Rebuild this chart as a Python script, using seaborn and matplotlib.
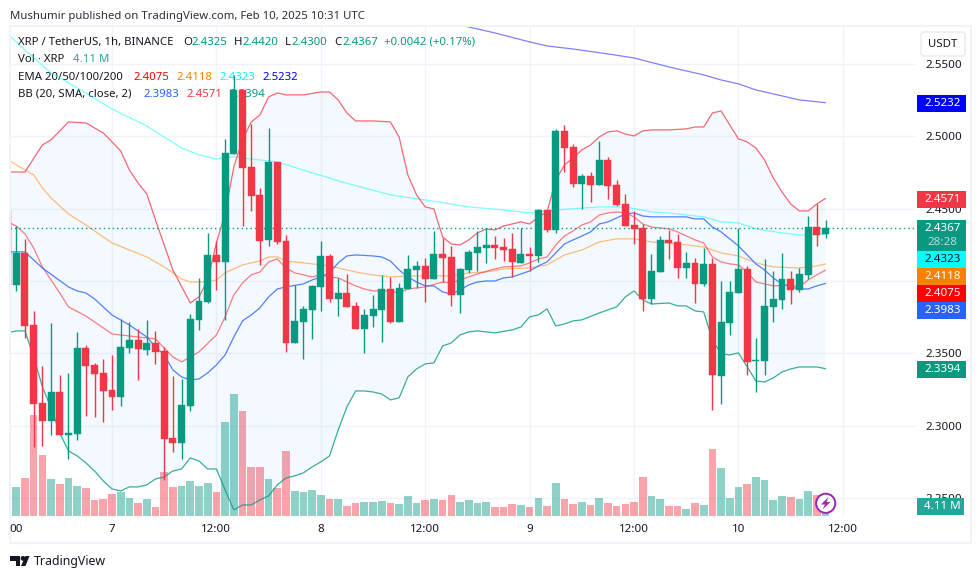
# XRP / USDT 1h chart, TradingView look

import matplotlib
matplotlib.use("Agg")

import matplotlib.pyplot as plt
import numpy as np
import pandas as pd
import seaborn as sns
from matplotlib.patches import Circle, FancyBboxPatch, Polygon, Rectangle

# ==========================================
# Data (hours counted from Feb 7 00:00)
# ==========================================

hours = list(range(-12, 83))

open_ = [2.4484, 2.3973, 2.4194, 2.3696, 2.3157, 2.3033, 2.3233, 2.2936, 2.2943, 2.3537, 2.3420, 2.3365,
         2.3247, 2.3199, 2.3537, 2.3593, 2.3523, 2.3572, 2.3517, 2.2915, 2.2881, 2.3137, 2.3731, 2.3855,
         2.4180, 2.4132, 2.4878, 2.5320, 2.4788, 2.4595, 2.4284, 2.4823, 2.4277, 2.3572, 2.3717, 2.3800,
         2.3959, 2.4173, 2.3876, 2.3917, 2.3828, 2.3669, 2.3758, 2.3800, 2.3945, 2.3717, 2.3945, 2.4076,
         2.4104, 2.4014, 2.4187, 2.4166, 2.3904, 2.4076, 2.4194, 2.4228, 2.4249, 2.4235, 2.4221, 2.4125,
         2.4187, 2.4173, 2.4491, 2.4353, 2.5037, 2.4926, 2.4671, 2.4726, 2.4664, 2.4836, 2.4664, 2.4532,
         2.4387, 2.4367, 2.3876, 2.4062, 2.4284, 2.4270, 2.4090, 2.4125, 2.3980, 2.4118, 2.3344, 2.3710,
         2.3917, 2.4083, 2.3447, 2.3447, 2.3821, 2.3869, 2.4014, 2.3938, 2.4042, 2.4373, 2.4325]
high = [2.4484, 2.4380, 2.4291, 2.3793, 2.3413, 2.3710, 2.3351, 2.3365, 2.3648, 2.3558, 2.3434, 2.3461,
        2.3489, 2.3738, 2.3717, 2.3669, 2.3731, 2.3655, 2.3544, 2.3344, 2.3323, 2.3772, 2.4021, 2.4332,
        2.4277, 2.4982, 2.5424, 2.5320, 2.5085, 2.4643, 2.5058, 2.4823, 2.4318, 2.3973, 2.3828, 2.3973,
        2.4277, 2.4187, 2.4021, 2.4049, 2.3855, 2.3807, 2.3904, 2.4042, 2.4028, 2.3986, 2.4180, 2.4138,
        2.4159, 2.4346, 2.4297, 2.4242, 2.4090, 2.4214, 2.4346, 2.4367, 2.4311, 2.4297, 2.4332, 2.4367,
        2.4235, 2.4498, 2.4491, 2.5051, 2.5078, 2.4947, 2.4740, 2.4753, 2.4968, 2.4857, 2.4698, 2.4601,
        2.4484, 2.4394, 2.4187, 2.4311, 2.4353, 2.4325, 2.4201, 2.4159, 2.4228, 2.4159, 2.4000, 2.4000,
        2.4367, 2.4104, 2.3606, 2.4152, 2.4069, 2.4194, 2.4069, 2.4090, 2.4449, 2.4532, 2.4420]
low = [2.3973, 2.3931, 2.3606, 2.2853, 2.2860, 2.2936, 2.2936, 2.2770, 2.2902, 2.3067, 2.3061, 2.3026,
       2.3109, 2.3137, 2.3503, 2.3316, 2.3489, 2.3427, 2.2625, 2.2819, 2.2770, 2.3102, 2.3662, 2.3848,
       2.3938, 2.3731, 2.4878, 2.4380, 2.4484, 2.4111, 2.4242, 2.4256, 2.3510, 2.3572, 2.3461, 2.3600,
       2.3793, 2.3855, 2.3758, 2.3821, 2.3669, 2.3503, 2.3682, 2.3579, 2.3710, 2.3717, 2.3945, 2.3952,
       2.3855, 2.4014, 2.3993, 2.3828, 2.3779, 2.4056, 2.4069, 2.4125, 2.4152, 2.4138, 2.4028, 2.4125,
       2.4069, 2.4132, 2.4339, 2.4332, 2.4753, 2.4650, 2.4498, 2.4546, 2.4664, 2.4567, 2.4519, 2.4380,
       2.4256, 2.3793, 2.3841, 2.4062, 2.4152, 2.4021, 2.4021, 2.3848, 2.3966, 2.3109, 2.3150, 2.3627,
       2.3917, 2.3351, 2.3233, 2.3351, 2.3717, 2.3807, 2.3841, 2.3924, 2.4014, 2.4242, 2.4300]
close = [2.3973, 2.4194, 2.3689, 2.3150, 2.3033, 2.3233, 2.2936, 2.2950, 2.3537, 2.3413, 2.3358, 2.3240,
         2.3199, 2.3544, 2.3593, 2.3530, 2.3572, 2.3510, 2.2909, 2.2881, 2.3143, 2.3738, 2.3862, 2.4180,
         2.4132, 2.4885, 2.5320, 2.4781, 2.4588, 2.4277, 2.4823, 2.4270, 2.3572, 2.3724, 2.3807, 2.3966,
         2.4173, 2.3876, 2.3917, 2.3821, 2.3669, 2.3765, 2.3807, 2.3945, 2.3717, 2.3952, 2.4083, 2.4104,
         2.4014, 2.4187, 2.4159, 2.3904, 2.4083, 2.4201, 2.4235, 2.4249, 2.4228, 2.4214, 2.4132, 2.4187,
         2.4173, 2.4491, 2.4353, 2.5037, 2.4919, 2.4671, 2.4726, 2.4664, 2.4836, 2.4657, 2.4525, 2.4380,
         2.4360, 2.3876, 2.4069, 2.4284, 2.4263, 2.4090, 2.4125, 2.3980, 2.4118, 2.3351, 2.3717, 2.3924,
         2.4083, 2.3441, 2.3454, 2.3828, 2.3876, 2.4014, 2.3938, 2.4049, 2.4373, 2.4318, 2.4367]
volume = [12.7, 11.9, 15.6, 41.5, 25.1, 15.2, 13.2, 15.6, 12.3, 11.5, 6.6, 7.0,
          9.0, 9.9, 7.4, 5.3, 7.0, 3.7, 18.1, 11.9, 12.3, 14.4, 12.3, 13.6,
          9.9, 38.6, 50.1, 43.2, 20.1, 20.1, 15.2, 11.5, 26.7, 10.3, 9.9, 10.7,
          8.6, 7.0, 7.0, 4.1, 5.3, 5.8, 5.8, 6.2, 5.3, 4.9, 8.2, 5.3,
          6.6, 7.0, 6.6, 8.6, 5.8, 6.6, 5.3, 5.8, 3.7, 3.7, 4.9, 4.5,
          3.7, 7.4, 4.1, 13.6, 7.0, 4.9, 5.8, 4.5, 7.4, 5.3, 4.1, 4.9,
          5.8, 16.0, 8.2, 7.0, 4.1, 4.1, 2.9, 5.3, 4.5, 27.5, 19.7, 7.4,
          11.9, 13.2, 16.0, 14.8, 6.6, 8.2, 7.8, 7.0, 10.3, 8.6, 4.11]

upper_h = [-12, -11, -10, -8, -7, -5, -3, -1, 1, 2, 3, 4, 5, 7, 9, 10, 11, 12, 13, 14, 15, 16, 17, 18, 19, 20,
           22, 24, 25, 26, 27, 28, 30, 32, 33, 34, 35, 36, 37, 38, 39, 40, 41, 42, 43, 44, 45, 47, 48, 49, 50,
           51, 52, 53, 54, 55, 56, 57, 58, 59, 60, 61, 62, 64, 66, 67, 68, 69, 70, 71, 72, 73, 74, 75, 76, 77,
           78, 79, 80, 81, 82]
upper_p = [2.4753, 2.4753, 2.4753, 2.4940, 2.4975, 2.5099, 2.5092, 2.5023, 2.4899, 2.4767, 2.4677, 2.4601,
           2.4422, 2.4076, 2.3848, 2.3890, 2.4007, 2.4263, 2.4470, 2.4788, 2.4975, 2.5099, 2.5147, 2.5272,
           2.5299, 2.5286, 2.5286, 2.5306, 2.5306, 2.5251, 2.5161, 2.5106, 2.5106, 2.5099, 2.4995, 2.4733,
           2.4595, 2.4512, 2.4498, 2.4304, 2.4256, 2.4249, 2.4284, 2.4332, 2.4360, 2.4353, 2.4380, 2.4408,
           2.4394, 2.4443, 2.4477, 2.4698, 2.4802, 2.4850, 2.4906, 2.4940, 2.4995, 2.5030, 2.5037, 2.5016,
           2.5002, 2.5037, 2.5044, 2.5044, 2.5051, 2.5064, 2.5064, 2.5161, 2.5175, 2.5078, 2.4982, 2.4961,
           2.4919, 2.4836, 2.4712, 2.4615, 2.4532, 2.4484, 2.4484, 2.4532, 2.4571]

basis_h = [-12, -11, -10, -8, -5, -4, -3, -2, 0, 2, 4, 5, 6, 7, 8, 9, 10, 11, 12, 13, 14, 15, 16, 17, 18, 19, 20,
           22, 23, 24, 25, 26, 27, 28, 30, 31, 32, 33, 34, 35, 36, 37, 38, 39, 40, 41, 42, 43, 44, 45, 46, 47, 48,
           49, 50, 51, 52, 53, 54, 55, 56, 57, 59, 60, 61, 62, 66, 67, 68, 69, 70, 71, 72, 73, 74, 75, 76, 77, 78,
           79, 80, 81, 82]
basis_p = [2.4201, 2.4201, 2.4201, 2.4090, 2.3959, 2.3931, 2.3917, 2.3876, 2.3765, 2.3696, 2.3613, 2.3544,
           2.3489, 2.3385, 2.3337, 2.3316, 2.3323, 2.3365, 2.3420, 2.3489, 2.3613, 2.3724, 2.3765, 2.3814,
           2.3890, 2.3945, 2.3959, 2.3980, 2.4007, 2.4028, 2.4056, 2.4125, 2.4173, 2.4180, 2.4173, 2.4166,
           2.4138, 2.4076, 2.4028, 2.3993, 2.3966, 2.3966, 2.3924, 2.3910, 2.3938, 2.3973, 2.3993, 2.4000,
           2.4000, 2.4021, 2.4028, 2.4049, 2.4069, 2.4104, 2.4132, 2.4194, 2.4256, 2.4284, 2.4311, 2.4339,
           2.4394, 2.4408, 2.4463, 2.4470, 2.4449, 2.4443, 2.4443, 2.4429, 2.4429, 2.4373, 2.4339, 2.4291,
           2.4242, 2.4180, 2.4118, 2.4076, 2.4021, 2.3980, 2.3959, 2.3945, 2.3945, 2.3966, 2.3983]

lower_h = [-12, -11, -10, -9, -8, -7, -6, -5, -4, -3, -2, -1, 0, 1, 2, 3, 4, 5, 6, 7, 8, 9, 10, 11, 12, 13, 14, 15,
           16, 17, 18, 19, 20, 21, 22, 23, 24, 25, 26, 27, 28, 29, 30, 31, 32, 33, 34, 35, 36, 37, 38, 39, 40, 41,
           42, 44, 46, 47, 48, 49, 50, 51, 52, 53, 54, 56, 58, 59, 60, 61, 62, 64, 65, 66, 67, 68, 69, 70, 71, 72,
           73, 74, 75, 76, 77, 78, 79, 81, 82]
lower_p = [2.3641, 2.3655, 2.3655, 2.3475, 2.3268, 2.3123, 2.2950, 2.2826, 2.2791, 2.2743, 2.2687, 2.2618,
           2.2563, 2.2549, 2.2577, 2.2577, 2.2591, 2.2632, 2.2646, 2.2687, 2.2701, 2.2777, 2.2756, 2.2701,
           2.2701, 2.2556, 2.2418, 2.2452, 2.2452, 2.2487, 2.2515, 2.2591, 2.2639, 2.2653, 2.2674, 2.2715,
           2.2750, 2.2791, 2.2971, 2.3130, 2.3240, 2.3240, 2.3233, 2.3219, 2.3178, 2.3192, 2.3337, 2.3392,
           2.3427, 2.3434, 2.3551, 2.3572, 2.3627, 2.3648, 2.3655, 2.3641, 2.3662, 2.3682, 2.3752, 2.3765,
           2.3807, 2.3689, 2.3703, 2.3724, 2.3731, 2.3779, 2.3821, 2.3890, 2.3931, 2.3869, 2.3841, 2.3848,
           2.3828, 2.3828, 2.3793, 2.3786, 2.3593, 2.3496, 2.3489, 2.3503, 2.3406, 2.3309, 2.3302, 2.3330,
           2.3371, 2.3392, 2.3406, 2.3406, 2.3394]

ema20_h = [-12, -11, -10, -9, -8, -7, -6, -5, -3, -2, 0, 2, 4, 5, 6, 7, 8, 9, 10, 12, 13, 14, 15, 16, 17, 18, 19, 20,
           21, 23, 24, 25, 26, 27, 28, 29, 30, 32, 33, 34, 36, 38, 39, 40, 41, 42, 44, 45, 47, 48, 49, 50, 51, 52,
           53, 54, 55, 56, 57, 58, 59, 60, 61, 62, 64, 65, 66, 67, 68, 69, 70, 71, 72, 73, 74, 75, 76, 78, 79, 80,
           81, 82]
ema20_p = [2.4408, 2.4380, 2.4325, 2.4228, 2.4097, 2.4007, 2.3917, 2.3821, 2.3758, 2.3717, 2.3634, 2.3620,
           2.3606, 2.3600, 2.3537, 2.3475, 2.3441, 2.3475, 2.3510, 2.3627, 2.3752, 2.3904, 2.3986, 2.4042,
           2.4062, 2.4132, 2.4152, 2.4090, 2.4056, 2.4028, 2.4042, 2.4028, 2.4021, 2.3993, 2.3966, 2.3945,
           2.3931, 2.3931, 2.3917, 2.3945, 2.3959, 2.3993, 2.3986, 2.4007, 2.4028, 2.4049, 2.4083, 2.4097,
           2.4104, 2.4125, 2.4152, 2.4166, 2.4249, 2.4311, 2.4346, 2.4387, 2.4408, 2.4456, 2.4470, 2.4477,
           2.4470, 2.4443, 2.4394, 2.4373, 2.4360, 2.4339, 2.4311, 2.4284, 2.4263, 2.4166, 2.4132, 2.4118,
           2.4111, 2.4062, 2.3993, 2.3980, 2.3966, 2.3973, 2.3959, 2.4007, 2.4042, 2.4075]

ema50_h = [-12, -11, -9, -8, -7, -5, -3, 0, 2, 4, 6, 7, 8, 9, 11, 12, 13, 15, 17, 18, 19, 20, 22, 24, 25, 26, 28, 30,
           32, 35, 37, 39, 41, 43, 45, 48, 50, 52, 54, 56, 58, 60, 62, 64, 67, 68, 70, 72, 74, 76, 79, 81, 82]
ema50_p = [2.4843, 2.4802, 2.4733, 2.4643, 2.4574, 2.4463, 2.4387, 2.4263, 2.4214, 2.4166, 2.4097, 2.4056,
           2.4014, 2.3993, 2.3993, 2.4007, 2.4056, 2.4111, 2.4138, 2.4166, 2.4166, 2.4138, 2.4125, 2.4111,
           2.4104, 2.4090, 2.4062, 2.4042, 2.4028, 2.4035, 2.4035, 2.4035, 2.4056, 2.4062, 2.4083, 2.4090,
           2.4111, 2.4180, 2.4214, 2.4270, 2.4291, 2.4291, 2.4270, 2.4263, 2.4242, 2.4235, 2.4194, 2.4173,
           2.4125, 2.4097, 2.4090, 2.4104, 2.4118]

ema100_h = [-12, -10, -7, -4, 0, 4, 6, 8, 10, 12, 14, 16, 19, 23, 25, 26, 29, 32, 36, 41, 45, 48, 51, 56, 59, 62,
            64, 68, 70, 72, 74, 77, 79, 82]
ema100_p = [2.5707, 2.5596, 2.5438, 2.5334, 2.5189, 2.5071, 2.4995, 2.4919, 2.4871, 2.4843, 2.4857, 2.4843,
            2.4823, 2.4747, 2.4712, 2.4691, 2.4643, 2.4595, 2.4560, 2.4512, 2.4491, 2.4470, 2.4491, 2.4512,
            2.4512, 2.4477, 2.4470, 2.4443, 2.4408, 2.4401, 2.4360, 2.4332, 2.4318, 2.4323]

ema200_h = [40, 41, 44, 48, 50, 53, 57, 60, 64, 68, 70, 72, 74, 77, 79, 82]
ema200_p = [2.5769, 2.5755, 2.5714, 2.5652, 2.5624, 2.5603, 2.5569, 2.5541, 2.5479, 2.5424, 2.5389, 2.5362,
            2.5320, 2.5279, 2.5251, 2.5232]

price_ticks = [2.25, 2.30, 2.35, 2.40, 2.45, 2.50, 2.55]
time_ticks = [0, 12, 24, 36, 48, 60, 72, 84]
time_labels = ["7", "12:00", "8", "12:00", "9", "12:00", "10", "12:00"]

UP = "#089981"
DOWN = "#f23645"
GRID = "#f0f3fa"
INK = "#131722"
FONT = "Noto Sans"
SMALL = 8.2
NUM = 8.35
XLIM = (-11.72, 92.4)
YLIM = (2.2376, 2.5755)

# ==========================================
# Figure and axes
# ==========================================

sns.set_theme(style="white")
plt.rcParams["font.family"] = [FONT, "DejaVu Sans"]

W, H = 980, 579
L, R, T, B = 10, 916, 27, 516

fig = plt.figure(figsize=(W / 100, H / 100), dpi=100, facecolor="white")
rect = [L / W, 1 - B / H, (R - L) / W, (B - T) / H]

# grid at the back so the see-through volume bars sit over it
ax_grid = fig.add_axes(rect, zorder=0)
ax_vol = fig.add_axes(rect, zorder=1)
ax = fig.add_axes(rect, zorder=2)
ax.patch.set_visible(False)
top = fig.add_axes([0, 0, 1, 1], zorder=5)
top.patch.set_visible(False)
top.set_xlim(0, W)
top.set_ylim(H, 0)
top.axis("off")

df = pd.DataFrame({"hour": hours, "open": open_, "high": high, "low": low, "close": close, "volume": volume})
df["side"] = np.where(df["close"] >= df["open"], "up", "down")
palette = {"up": UP, "down": DOWN}

ax_grid.set_xlim(*XLIM)
ax_grid.set_ylim(*YLIM)
ax_grid.set_xticks(time_ticks)
ax_grid.set_yticks(price_ticks)
ax_grid.tick_params(length=0, labelbottom=False, labelleft=False)
ax_grid.grid(True, color=GRID, lw=1)
for side in ax_grid.spines.values():
    side.set_visible(False)

# ==========================================
# Volume pane
# ==========================================

sns.barplot(data=df, x="hour", y="volume", hue="side", palette=palette, hue_order=["up", "down"],
            native_scale=True, dodge=False, width=0.88, saturation=1, alpha=0.45, errorbar=None,
            legend=False, edgecolor="none", linewidth=0, ax=ax_vol)
ax_vol.set_xlim(*XLIM)
ax_vol.set_ylim(0, 201)
ax_vol.axis("off")

# ==========================================
# Bollinger band and EMA lines
# ==========================================

ax.fill(upper_h + lower_h[::-1], upper_p + lower_p[::-1], color="#2196f3", alpha=0.05, lw=0, zorder=1)

lines = [
    (ema200_h, ema200_p, "#0000ff", 0.5),
    (ema100_h, ema100_p, "#00ffff", 0.5),
    (ema50_h, ema50_p, "#ff8000", 0.5),
    (ema20_h, ema20_p, "#ff0000", 0.5),
    (lower_h, lower_p, UP, 0.8),
    (upper_h, upper_p, DOWN, 0.75),
    (basis_h, basis_p, "#2962ff", 0.8),
]
for xs, ys, colour, fade in lines:
    sns.lineplot(x=xs, y=ys, color=colour, alpha=fade, linewidth=0.9, errorbar=None, ax=ax, zorder=2)

ax.axhline(close[-1], color=UP, lw=1, ls=(0, (1, 2.2)), zorder=2)

# ==========================================
# Candles
# ==========================================

colours = df["side"].map(palette)
ax.vlines(df["hour"], df["low"], df["high"], colors=colours, lw=1.0, zorder=3)
ax.bar(df["hour"], (df["close"] - df["open"]).abs(), bottom=df[["open", "close"]].min(axis=1),
       width=0.8, color=colours, edgecolor=colours, lw=0.3, zorder=3)

# ==========================================
# Axes and ticks
# ==========================================

ax.set_xlim(*XLIM)
ax.set_ylim(*YLIM)
ax.set_xticks(time_ticks, time_labels)
ax.set_yticks(price_ticks, [f"{p:.4f}" for p in price_ticks])
ax.yaxis.tick_right()
ax.tick_params(axis="x", length=0, pad=6, labelsize=NUM, labelcolor=INK)
ax.tick_params(axis="y", length=0, pad=6.5, labelsize=NUM, labelcolor=INK)
ax.grid(False)
for side in ax.spines.values():
    side.set_visible(False)

# ==========================================
# Texts and overlays, in pixel coordinates
# ==========================================

def legend_text(x, y, text, colour=INK):
    ax.text(x, y, text, color=colour, fontsize=SMALL, va="center", ha="left", zorder=1.5,
            transform=top.transData)


top.add_patch(Rectangle((9.5, 26), 961, 517, fill=False, ec=GRID, lw=1.4))
top.text(10, 16.5, "Mushumir published on TradingView.com, Feb 10, 2025 10:31 UTC", color="#2a2e39",
         fontsize=SMALL, va="center")
top.text(16, 529, "00", color=INK, fontsize=NUM, va="center", ha="center")

legend_text(18, 42.5, "XRP / TetherUS, 1h, BINANCE")
for x, label, value in [(183, "O", "2.4325"), (234, "H", "2.4420"), (285, "L", "2.4300"), (334, "C", "2.4367")]:
    legend_text(x, 42.5, label)
    legend_text(x + (6 if label == "L" else 8), 42.5, value, UP)
legend_text(384, 42.5, "+0.0042 (+0.17%)", UP)
legend_text(18, 60, "Vol · XRP")
legend_text(73, 60, "4.11 M", "#26a69a")
legend_text(18, 77, "EMA 20/50/100/200")
for x, value, colour in [(133, "2.4075", "#ff0000"), (176, "2.4118", "#ff8000"),
                         (219, "2.4323", "#00ffff"), (262, "2.5232", "#0000ff")]:
    legend_text(x, 77, value, colour)
legend_text(18, 94.5, "BB (20, SMA, close, 2)")
for x, value, colour in [(143, "2.3983", "#2962ff"), (186, "2.4571", DOWN), (229, "2.3394", UP)]:
    legend_text(x, 94.5, value, colour)


def price_tag(y0, y1, text, bg, fg="white", right=966):
    top.add_patch(Rectangle((917, y0), right - 917, y1 - y0, color=bg, lw=0))
    top.text(942.5, (y0 + y1) / 2, text, color=fg, fontsize=NUM, ha="center", va="center", fontweight="medium")


price_tag(95, 112, "2.5232", "#0000ff")
price_tag(191, 208, "2.4571", DOWN)
price_tag(220, 251, "", UP)
top.text(942.5, 228.5, "2.4367", color="white", fontsize=NUM, ha="center", va="center", fontweight="medium")
top.text(942.5, 242.5, "28:28", color="#b5e0d9", fontsize=NUM, ha="center", va="center", fontweight="medium")
price_tag(251, 268, "2.4323", "#00ffff", INK)
price_tag(268, 285, "2.4118", "#ff8000")
price_tag(285, 302, "2.4075", "#ff0000")
price_tag(302, 319, "2.3983", "#2962ff")
price_tag(361, 378, "2.3394", UP)
price_tag(498, 515, "4.11 M", "#26a69a", right=964)

# USDT button
top.add_patch(FancyBboxPatch((921, 32), 44, 24, boxstyle="round,pad=0,rounding_size=3",
                             fc="white", ec="#e8eaf0", lw=1))
top.text(943, 44.5, "USDT", color=INK, fontsize=SMALL, ha="center", va="center")

# lightning badge
top.add_patch(Circle((825.7, 503.3), 9.6, fc="white", ec="#9c27b0", lw=1.4))
top.add_patch(Polygon([(828.5, 497), (821, 504.5), (825, 504.5), (822.5, 509.5), (830.5, 502), (826.5, 502)],
                      closed=True, fc="#9c27b0", ec="none"))

# TradingView logo
top.add_patch(Polygon([(10, 556), (20, 556), (20, 566), (15.5, 566), (15.5, 561), (10, 561)],
                      closed=True, fc=INK, ec="none"))
top.add_patch(Circle((23, 558.4), 2.4, fc=INK, ec="none"))
top.add_patch(Polygon([(21, 566), (25.5, 566), (29.5, 556), (25.5, 556)], closed=True, fc=INK, ec="none"))
top.text(33.5, 562, "TradingView", color=INK, fontsize=8.9, va="center")

fig.savefig("out.png", dpi=100)
